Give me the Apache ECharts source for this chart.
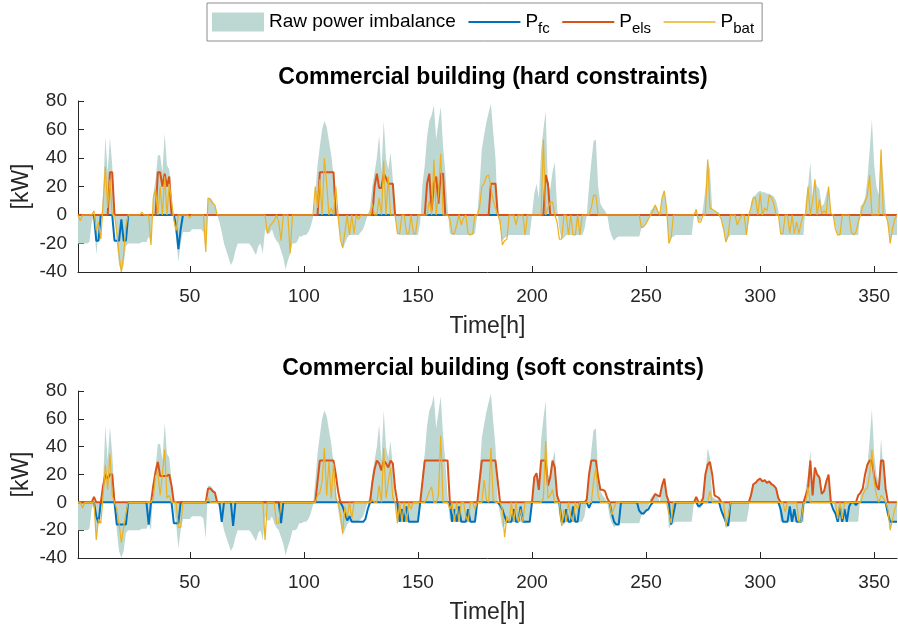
<!DOCTYPE html>
<html>
<head>
<meta charset="utf-8">
<title>Commercial building</title>
<script src="https://cdn.jsdelivr.net/npm/echarts@6/dist/echarts.min.js"></script>
<style>
  html, body { margin: 0; padding: 0; background: #fff; }
  #chart { width: 898px; height: 630px; }
</style>
</head>
<body>
<div id="chart"></div>
<script>
// hourly values in kW, hours 1..360, one line per day (24 h)
var rawImbalance = [
  -20,-20,-20,-20,-20,-19,-5,0, -28,-12,-5,15,55,30,54,35, 5,-20,-35,-40,-35,-22,-20,-20,
  -20,-20,-20,-20,-19,-19,-19,-15, -20,15,25,42,42,30,57,35, 32,15,-5,-15,-33,-20,-12,-12,
  -12,-12,-10,-10,-10,-10,-10,-12, -26,12,12,10,7,0,-5,-12, -20,-25,-30,-35,-32,-25,-20,-20,
  -20,-20,-20,-20,-22,-25,-28,-22, -20,-27,-10,-13,-13,-10,-15,-18, -20,-25,-30,-38,-32,-27,-20,-20,
  -19,-15,-15,-14,-14,-12,-8,-2, 15,35,48,60,66,62,52,42, 28,10,-5,-15,-24,-20,-16,-14,
  -14,-14,-14,-14,-12,-10,-5,0, 5,20,30,40,56,30,66,40, 32,44,25,2,-13,-14,-14,-14,
  -14,-14,-14,-14,-14,-14,-5,22, 35,55,66,70,77,53,65,76, 49,30,5,-13,-14,-14,-14,-14,
  -14,-14,-14,-14,-14,-14,-13,0, 20,46,56,65,72,78,58,40, 0,-8,-18,-16,-15,-14,-14,-14,
  -14,-14,-14,-14,-14,-14,-14,0, 15,22,12,45,60,73,20,18, 30,37,5,-10,-17,-16,-14,-14,
  -14,-14,-14,-14,-14,-14,-10,0, 20,37,52,53,20,8,5,3, 0,-10,-15,-18,-16,-15,-15,-15,
  -15,-15,-15,-15,-15,-15,-15,-9, -9,-6,-3,3,5,7,5,0, 12,17,5,-19,-16,-15,-14,-14,
  -14,-14,-14,-14,-14,-14,0,4, -4,-4,5,18,39,32,4,3, 2,2,-3,-10,-19,-16,-14,-14,
  -14,-14,-14,-14,-14,-14,-5,9, 13,14,16,17,16,16,15,15, 14,13,10,3,-14,-14,-14,-14,
  -14,-14,-14,-14,-14,-14,-14,10, 20,37,12,25,20,18,6,8, 15,20,2,0,-8,-14,-14,-14,
  -14,-14,-14,-14,-14,-14,-14,6, 8,12,25,45,67,35,20,14, 46,25,4,-8,-18,-14,-14,-14
];

// hard constraints
var pfcHard = [
  0,0,0,0,0,0,0,0, -18,-18,0,0,0,0,0,0, -18,-18,-18,-3,-18,-18,0,0,
  0,0,0,0,0,0,0,0, 0,0,0,0,0,0,0,0, 0,0,0,-8,-24,-10,0,0,
  0,0,0,0,0,0,0,0, 0,0,0,0,0,0,0,0, 0,0,0,0,0,0,0,0,
  0,0,0,0,0,0,0,0, 0,0,0,0,0,0,0,0, 0,0,0,0,0,0,0,0,
  0,0,0,0,0,0,0,0, 0,0,0,0,0,0,0,0, 0,0,0,0,0,0,0,0,
  0,0,0,0,0,0,0,0, 0,0,0,0,0,0,0,0, 0,0,0,0,0,0,0,0,
  0,0,0,0,0,0,0,0, 0,0,0,0,0,0,0,0, 0,0,0,0,0,0,0,0,
  0,0,0,0,0,0,0,0, 0,0,0,0,0,0,0,0, 0,0,0,0,0,0,0,0,
  0,0,0,0,0,0,0,0, 0,0,0,0,0,0,0,0, 0,0,0,0,0,0,0,0,
  0,0,0,0,0,0,0,0, 0,0,0,0,0,0,0,0, 0,0,0,0,0,0,0,0,
  0,0,0,0,0,0,0,0, 0,0,0,0,0,0,0,0, 0,0,0,0,0,0,0,0,
  0,0,0,0,0,0,0,0, 0,0,0,0,0,0,0,0, 0,0,0,0,0,0,0,0,
  0,0,0,0,0,0,0,0, 0,0,0,0,0,0,0,0, 0,0,0,0,0,0,0,0,
  0,0,0,0,0,0,0,0, 0,0,0,0,0,0,0,0, 0,0,0,0,0,0,0,0,
  0,0,0,0,0,0,0,0, 0,0,0,0,0,0,0,0, 0,0,0,0,0,0,0,0
];
var pelsHard = [
  0,0,0,0,0,0,0,0, 0,0,0,0,0,0,30,30, 0,0,0,0,0,0,0,0,
  0,0,0,0,0,0,0,0, 0,0,0,30,30,20,29,20, 27,0,0,0,0,0,0,0,
  0,0,0,0,0,0,0,0, 0,0,0,0,0,0,0,0, 0,0,0,0,0,0,0,0,
  0,0,0,0,0,0,0,0, 0,0,0,0,0,0,0,0, 0,0,0,0,0,0,0,0,
  0,0,0,0,0,0,0,0, 0,0,30,30,30,30,30,30, 30,0,0,0,0,0,0,0,
  0,0,0,0,0,0,0,0, 0,0,20,29,19,19,29,26, 22,22,22,0,0,0,0,0,
  0,0,0,0,0,0,0,0, 0,22,29,3,22,27,8,29, 29,0,0,0,0,0,0,0,
  0,0,0,0,0,0,0,0, 0,0,0,0,0,22,22,22, 0,0,0,0,0,0,0,0,
  0,0,0,0,0,0,0,0, 0,0,0,0,0,28,22,0, 0,0,0,0,0,0,0,0,
  0,0,0,0,0,0,0,0, 0,0,0,0,0,0,0,0, 0,0,0,0,0,0,0,0,
  0,0,0,0,0,0,0,0, 0,0,0,0,0,0,0,0, 0,0,0,0,0,0,0,0,
  0,0,0,0,0,0,0,0, 0,0,0,0,0,0,0,0, 0,0,0,0,0,0,0,0,
  0,0,0,0,0,0,0,0, 0,0,0,0,0,0,0,0, 0,0,0,0,0,0,0,0,
  0,0,0,0,0,0,0,0, 0,0,0,0,0,0,0,0, 0,0,0,0,0,0,0,0,
  0,0,0,0,0,0,0,0, 0,0,0,0,0,0,0,0, 0,0,0,0,0,0,0,0
];
var pbatHard = [
  0,-4,0,0,0,0,0,3, -11,-5,-17,8,34,5,25,0, 0,-12,-28,-40,-28,-8,0,0,
  0,0,0,0,2,0,0,0, -21,12,18,0,20,0,27,0, 22,10,-3,-11,0,0,0,0,
  0,-2,0,0,0,0,0,0, -26,12,11,8,7,0,0,0, 0,0,0,0,0,0,0,0,
  0,0,0,0,0,0,0,0, 0,0,0,-13,-8,-6,-4,0, -5,-18,0,0,0,-27,0,0,
  0,0,0,0,0,0,0,0, 20,5,25,0,40,22,0,5, 0,20,0,-17,-23,-12,0,-14,
  0,-13,0,-3,0,0,0,0, 0,8,0,0,12,0,38,0, 27,0,0,0,-13,-13,0,0,
  -13,-13,0,-13,-13,0,0,0, 0,0,10,0,39,0,15,43, 0,0,0,-3,-13,-13,-7,0,
  -7,-2,0,-13,-14,-13,0,0, 5,20,22,27,28,20,10,5, 0,-4,-21,-18,-17,0,0,0,
  -7,0,0,0,-14,0,0,0, 0,0,0,0,53,0,5,9, 9,0,-5,-17,-17,0,0,-14,
  0,-14,-14,0,-14,0,0,0, 0,5,14,14,0,0,0,0, 0,0,0,0,0,0,0,0,
  0,0,0,0,0,0,0,-9, -8,-6,-3,0,3,7,3,0, 12,17,5,-20,-16,0,0,0,
  0,0,0,0,0,0,0,4, -5,-5,0,0,39,5,4,3, 2,0,-3,-10,-19,-14,0,0,
  0,-7,-3,0,0,-14,0,5, 12,12,0,15,0,5,3,14, 12,8,0,0,-13,-13,0,0,
  -13,0,-13,-5,-13,-5,0,0, 20,0,10,25,0,11,1,3, 1,20,1,0,-10,-14,-14,0,
  0,0,0,-12,-14,-12,-5,0, 6,9,14,28,0,0,0,0, 46,0,0,-5,-20,-10,-3,0
];

// soft constraints
var pfcSoft = [
  0,0,0,0,0,0,0,0, -10,-15,0,0,0,0,0,0, 0,-16,-16,-16,-16,-16,0,0,
  0,0,0,0,0,0,0,-16, 0,0,0,0,0,0,0,0, 0,0,-15,-15,-15,0,0,0,
  0,0,0,0,0,0,0,0, 0,0,0,0,0,0,0,-14, 0,0,0,0,-17,0,0,0,
  0,0,0,0,0,0,0,0, 0,0,0,0,0,0,0,0, 0,-15,0,0,0,0,0,0,
  0,0,0,0,0,0,0,0, 0,0,0,0,0,0,0,0, 0,0,0,0,-3,-8,-13,-10,
  -14,-14,-14,-14,-14,-14,-12,-5, 0,0,0,0,0,0,0,0, 0,0,0,0,0,-14,-5,-14,
  -3,-14,-14,-14,-14,-14,0,0, 0,0,0,0,0,0,0,0, 0,0,0,0,-14,-5,-14,-3,
  -14,-14,-14,-5,-14,-14,-14,0, 0,0,0,0,0,0,0,0, 0,-2,-5,-10,-14,-14,-14,-5,
  -14,-14,-3,-14,-14,-14,-14,0, 0,0,0,0,0,0,0,0, 0,0,0,0,-14,-14,-5,-14,
  -14,-3,-14,-14,0,0,0,0, -4,0,0,0,0,0,0,0, 0,0,-8,-14,-16,-16,0,0,
  0,0,0,0,0,0,-6,-8, -8,-6,-5,-2,0,0,0,0, 0,0,0,0,-16,-8,0,0,
  0,0,0,0,0,0,0,0, -3,-2,0,0,0,0,0,0, 0,0,-6,-10,-14,-17,0,0,
  0,0,0,0,0,0,0,0, 0,0,0,0,0,0,0,0, 0,0,0,0,-5,-14,-14,-14,
  -3,-14,-5,-14,-14,-14,0,0, 0,0,0,0,0,0,0,0, 0,0,0,-5,-8,-14,-3,-14,
  -5,-14,-3,0,0,-2,0,0, 0,0,0,0,0,0,0,0, 0,0,0,-8,-14,-14,-14,-14
];
var pelsSoft = [
  0,0,0,0,0,0,0,4, 0,0,0,12,20,17,20,20, 0,0,0,0,0,0,0,0,
  0,0,0,0,0,0,0,0, 0,12,22,29,19,19,19,19, 20,12,0,0,0,0,0,0,
  0,0,0,0,0,0,0,0, 0,10,10,8,7,0,0,0, 0,0,0,0,0,0,0,0,
  0,0,0,0,0,0,0,0, 0,0,0,0,0,0,0,0, 0,0,0,0,0,0,0,0,
  0,0,0,0,0,0,0,0, 0,15,30,30,30,30,30,30, 30,20,8,0,0,0,0,0,
  0,0,0,0,0,0,0,0, 0,14,24,30,28,23,30,28, 25,30,28,10,0,0,0,0,
  0,0,0,0,0,0,0,15, 30,30,30,30,30,30,30,30, 30,30,30,0,0,0,0,0,
  0,0,0,0,0,0,0,0, 15,30,30,30,30,30,30,30, 15,0,0,0,0,0,0,0,
  0,0,0,0,0,0,0,0, 18,21,9,30,30,30,12,18, 30,25,5,0,0,0,0,0,
  0,0,0,0,0,0,0,2, 20,30,30,30,18,9,9,8, 3,0,0,0,0,0,0,0,
  0,0,0,0,0,0,0,0, 0,0,0,0,3,6,5,4, 12,17,5,0,0,0,0,0,
  0,0,0,0,0,0,0,4, 0,0,3,20,27,29,20,5, 4,3,0,0,0,0,0,0,
  0,0,0,0,0,0,0,5, 13,14,16,17,15,16,14,15, 13,12,10,3,0,0,0,0,
  0,0,0,0,0,0,0,5, 10,30,5,25,20,18,6,8, 15,20,0,0,0,0,0,0,
  0,0,0,0,0,0,5,7, 10,20,27,30,30,19,12,9, 30,30,10,0,0,0,0,0
];
var pbatSoft = [
  0,0,-4,0,0,0,0,0, -27,-12,-15,5,27,9,35,5, 0,-5,-15,-29,-18,-8,0,0,
  0,0,0,0,0,0,0,0, 0,3,19,22,5,20,38,3, 5,0,0,0,-18,-18,0,0,
  0,0,0,0,0,0,0,0, 0,3,0,0,0,0,0,0, 0,0,0,0,0,0,0,0,
  0,0,0,0,0,0,0,0, 0,0,-27,0,0,0,0,-15, -15,0,0,0,0,0,0,0,
  0,0,0,0,0,0,0,0, 0,5,7,15,39,5,29,3, 28,3,0,-8,-22,-3,-11,0,
  -12,0,0,0,0,0,0,0, 0,2,0,0,12,0,39,3, 15,25,3,0,-15,0,-14,0,
  -14,0,-5,0,0,0,0,0, 0,3,8,11,0,0,5,48, 0,0,0,-5,0,-14,0,-14,
  0,0,-10,-14,0,0,-5,0, 0,0,16,2,0,39,2,0, 0,0,-5,-25,-10,-14,0,-14,
  0,-14,-5,-14,0,0,0,0, 0,0,0,0,3,44,3,5, 9,0,0,0,-17,-5,-14,0,
  -10,-14,0,-5,0,0,0,0, 0,0,15,25,5,0,0,0, 0,0,-9,-4,0,0,0,0,
  0,0,0,0,0,0,0,0, 0,0,0,0,0,0,0,0, 0,0,0,-8,-15,0,0,0,
  0,0,0,0,0,0,0,0, 0,0,0,0,0,8,0,0, 0,0,0,0,-17,-10,0,0,
  0,0,0,0,0,0,0,0, 0,0,0,0,0,0,0,0, 0,0,0,0,0,0,-7,0,
  0,0,0,0,-14,-14,0,0, 11,0,0,0,0,0,0,0, 0,0,0,0,0,-12,0,-12,
  0,0,0,0,0,0,0,0, 5,9,10,20,38,15,5,0, 5,3,0,-5,-20,-13,-5,0
];

var xTickValues = [50, 100, 150, 200, 250, 300, 350];
var panelTitles = ['Commercial building (hard constraints)', 'Commercial building (soft constraints)'];

var FONT = '"Liberation Sans", Arial, Helvetica, sans-serif';
var INK = '#262626';
var COLORS = { raw: '#bdd7d3', fc: '#0072bd', els: '#d95319', bat: '#edb120' };
var SUBS = { Pfc: 'fc', Pels: 'els', Pbat: 'bat' };
// plain bars used as legend samples for the line series (no marker)
var THICK_ICON = 'path://M0,0L26,0L26,1L0,1Z';
var THIN_ICON = 'path://M0,0L52,0L52,1.4L0,1.4Z';

var hours = [];
for (var h = 1; h <= rawImbalance.length; h++) hours.push(h);

function pairs(values) {
  return values.map(function (v, i) { return [hours[i], v]; });
}

function lineSeries(name, idx, values, color, width, z) {
  return {
    name: name, type: 'line', xAxisIndex: idx, yAxisIndex: idx,
    data: pairs(values), symbol: 'none', z: z,
    itemStyle: { color: color },
    lineStyle: { color: color, width: width }
  };
}

function panelSeries(idx, fc, els, bat) {
  return [
    {
      name: 'Raw power imbalance', type: 'line', xAxisIndex: idx, yAxisIndex: idx,
      data: pairs(rawImbalance), symbol: 'none', z: 1,
      itemStyle: { color: COLORS.raw },
      lineStyle: { width: 0, opacity: 0 },
      areaStyle: { color: COLORS.raw, opacity: 1, origin: 'auto' }
    },
    lineSeries('Pfc', idx, fc, COLORS.fc, 2, 2),
    lineSeries('Pels', idx, els, COLORS.els, 2, 3),
    lineSeries('Pbat', idx, bat, COLORS.bat, 1.2, 4)
  ];
}

function xAxis(idx) {
  return {
    gridIndex: idx, type: 'value', min: 1, max: 360,
    name: 'Time[h]', nameLocation: 'middle', nameGap: 43,
    nameTextStyle: { fontFamily: FONT, fontSize: 23, color: INK },
    axisLine: { onZero: false, lineStyle: { color: INK, width: 1 } },
    axisTick: { inside: true, length: 6, customValues: xTickValues, lineStyle: { color: INK } },
    axisLabel: { customValues: xTickValues, margin: 15, fontFamily: FONT, fontSize: 19, color: INK },
    splitLine: { show: false }
  };
}

function yAxis(idx) {
  return {
    gridIndex: idx, type: 'value', min: -40, max: 80, interval: 20,
    name: '[kW]', nameLocation: 'middle', nameGap: 45, nameRotate: 90,
    nameMoveOverlap: false,
    nameTextStyle: { fontFamily: FONT, fontSize: 23, color: INK },
    axisLine: { show: true, lineStyle: { color: INK, width: 1 } },
    axisTick: { show: true, inside: true, length: 6, lineStyle: { color: INK } },
    axisLabel: { margin: 11, fontFamily: FONT, fontSize: 19, color: INK },
    splitLine: { show: false }
  };
}

function panelTitle(text, top) {
  return {
    text: text, left: 488, top: top, textAlign: 'center',
    textStyle: { fontFamily: FONT, fontSize: 23, fontWeight: 'bold', color: '#000' }
  };
}

var chart = echarts.init(document.getElementById('chart'), null, { renderer: 'canvas' });

chart.setOption({
  animation: false,
  backgroundColor: '#fff',
  title: [panelTitle(panelTitles[0], 61), panelTitle(panelTitles[1], 352)],
  legend: {
    left: 207, top: 3,
    padding: [5, 8, 5, 5],
    borderColor: '#8c8c8c', borderWidth: 1,
    itemWidth: 52, itemHeight: 19, itemGap: 12.5,
    data: [
      { name: 'Raw power imbalance', icon: 'rect' },
      { name: 'Pfc', icon: THICK_ICON },
      { name: 'Pels', icon: THICK_ICON },
      { name: 'Pbat', icon: THIN_ICON }
    ],
    formatter: function (name) {
      return SUBS[name] ? 'P{s|' + SUBS[name] + '}' : name;
    },
    textStyle: {
      fontFamily: FONT, fontSize: 19, color: '#000', lineHeight: 28,
      rich: { s: { fontFamily: FONT, fontSize: 15, lineHeight: 15, color: '#000', verticalAlign: 'bottom' } }
    }
  },
  grid: [
    { left: 78, top: 101, width: 819, height: 171, outerBoundsMode: 'none' },
    { left: 78, top: 391, width: 819, height: 167, outerBoundsMode: 'none' }
  ],
  xAxis: [xAxis(0), xAxis(1)],
  yAxis: [yAxis(0), yAxis(1)],
  series: panelSeries(0, pfcHard, pelsHard, pbatHard)
    .concat(panelSeries(1, pfcSoft, pelsSoft, pbatSoft))
});
</script>
</body>
</html>
